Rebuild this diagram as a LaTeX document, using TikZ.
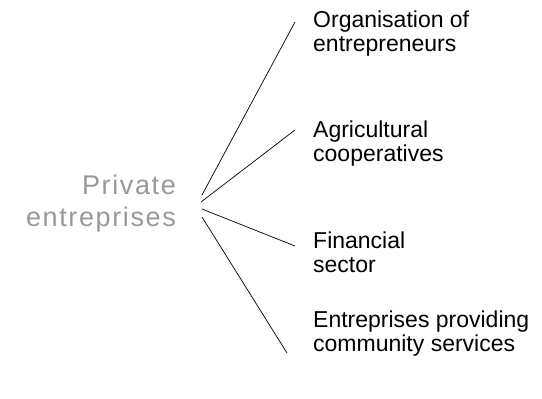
\documentclass[tikz,border=0pt]{standalone}
\usepackage{fontspec}
\setmainfont{Liberation Sans}
\usetikzlibrary{positioning}
\usetikzlibrary{calc}

\begin{document}
\begin{tikzpicture}[x=1pt, y=1pt]
	\tikzset{
		branch/.style={anchor=base west, align=left, inner sep=0pt, font=\fontsize{23}{24.5}\selectfont},
		root/.style={anchor=base east, align=right, inner sep=0pt, text=black!40, font=\addfontfeatures{LetterSpace=6}\fontsize{27}{32}\selectfont},
		link/.style={line width=0.7pt}
	}
	\useasboundingbox (0,0) rectangle (542,399);

	% Root: private entreprises
	\node[root] (priv) at (176,172) {Private\\entreprises};

	% Branches (anchored on the last line)
	\node[branch] (org) at (313,347) {Organisation of\\entrepreneurs};
	\node[branch] (agri) at (313,237) {Agricultural\\cooperatives};
	\node[branch] (fin) at (313,126) {Financial\\sector};
	\node[branch] (ent) at (313,47) {Entreprises providing\\community services};

	% Links
	\draw[link] ($(priv.east)+(26,9)$) -- ($(org.base west)+(-18,30)$);
	\draw[link] ($(priv.east)+(25,2)$) -- ($(agri.base west)+(-18,32)$);
	\draw[link] ($(priv.east)+(26,-5)$) -- ($(fin.base west)+(-18,27)$);
	\draw[link] ($(priv.east)+(26,-13)$) -- ($(ent.base west)+(-26,-1)$);
\end{tikzpicture}
\end{document}
